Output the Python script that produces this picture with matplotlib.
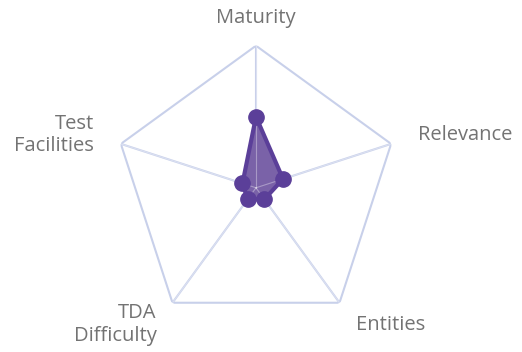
import numpy as np
import matplotlib
matplotlib.use("Agg")
import matplotlib.pyplot as plt

# radar data (scale 0..10)
categories = ["Maturity", "Relevance", "Entities", "TDA\nDifficulty", "Test\nFacilities"]
values = [5, 2, 1, 1, 1]
max_value = 10

plt.rcParams['font.family'] = ['Open Sans', 'DejaVu Sans']

fig = plt.figure(figsize=(5.22, 3.52), dpi=100)
ax = fig.add_axes([0.2182, 0.0628, 0.5444, 0.8074], projection="polar")
ax.set_theta_offset(np.pi / 2)
ax.set_theta_direction(-1)
ax.set_ylim(0, max_value)
ax.grid(False)
ax.spines["polar"].set_visible(False)
ax.set_xticks([])
ax.set_yticks([])
ax.patch.set_alpha(0)

n = len(categories)
angles = np.linspace(0, 2 * np.pi, n, endpoint=False)
grid_col = "#c8d0ea"

# outer pentagon + spokes
ring = np.append(angles, angles[0])
ax.plot(ring, [max_value] * (n + 1), color=grid_col, lw=1.5, zorder=1)
for a in angles:
    ax.plot([a, a], [0, max_value], color=grid_col, lw=1.5, zorder=1)

# series
vals = values + values[:1]
ax.fill(ring, vals, color="#7a62a8", alpha=1.0, zorder=2)
for a in angles:
    ax.plot([a, a], [0, max_value], color="white", lw=0.8, alpha=0.35, zorder=3)
ax.plot(ring, vals, color="#5b3f99", lw=3, zorder=4, solid_joinstyle="round")
ax.plot(angles, values, "o", color="#5b3f99", ms=11, zorder=5)

# labels
label_r = [11.95, 12.0, 11.95, 11.9, 12.0]
aligns = ["center", "left", "left", "right", "right"]
for a, lab, r, ha in zip(angles, categories, label_r, aligns):
    ax.text(a, r, lab, ha=ha, va="center", fontsize=14.5, color="#737373",
            linespacing=1.15, multialignment="right" if ha == "right" else "left")

plt.savefig("out.png", dpi=100)
